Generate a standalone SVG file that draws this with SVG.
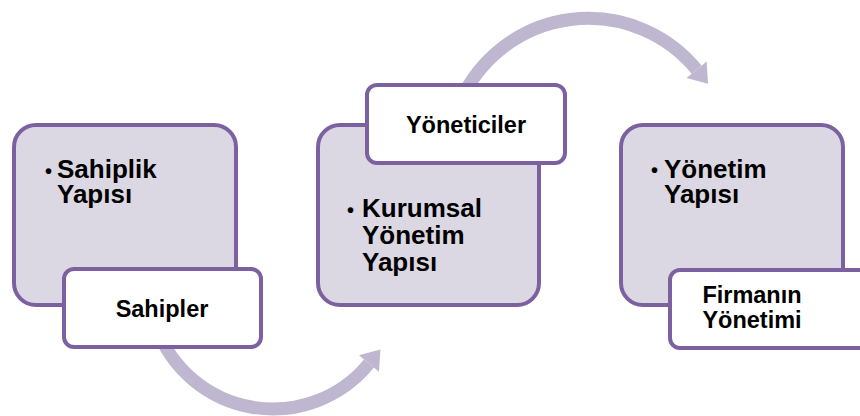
<svg xmlns="http://www.w3.org/2000/svg" width="860" height="416" viewBox="0 0 860 416">
  <defs>
    <style>
      .big { fill: #DCD8E3; stroke: #7B61A0; stroke-width: 4; }
      .tab { fill: #FFFFFF; stroke: #7B61A0; stroke-width: 4; }
      .flow { fill: none; stroke: #BFB6D0; stroke-width: 13; }
      .head { fill: #BFB6D0; }
      text { font-family: "Liberation Sans", Arial, sans-serif; font-weight: bold; fill: #000000; }
      .t1 { font-size: 26px; }
      .t2 { font-size: 23.5px; text-anchor: middle; }
      .dot { font-size: 20px; }
    </style>
  </defs>

  <rect width="860" height="416" fill="#FFFFFF"/>

  <!-- curved connectors between the stages -->
  <g id="connectors">
    <!-- bottom arc: Sahipler -> Kurumsal Yönetim -->
    <path class="flow" d="M 156.5 327.4 A 124 124 0 0 0 369 363.5"/>
    <polygon class="head" points="359,355.3 380.4,349.6 379,371.7"/>
    <!-- top arc: Yöneticiler -> Yönetim Yapısı -->
    <path class="flow" d="M 461 100 A 140 140 0 0 1 696.6 69.7"/>
    <polygon class="head" points="686.5,77.9 706.7,61.5 708,83.7"/>
  </g>

  <!-- stage 1 -->
  <g id="stage-sahiplik">
    <rect class="big" x="14" y="125" width="222" height="180" rx="22"/>
    <text class="dot" x="45" y="178">•</text>
    <text class="t1" x="57" y="178">Sahiplik</text>
    <text class="t1" x="57" y="203">Yapısı</text>
  </g>
  <g id="tab-sahipler">
    <rect class="tab" x="64" y="269" width="197" height="78" rx="10"/>
    <text class="t2" x="162" y="317">Sahipler</text>
  </g>

  <!-- stage 2 -->
  <g id="stage-kurumsal">
    <rect class="big" x="318" y="125" width="221" height="180" rx="22"/>
    <text class="dot" x="347" y="217">•</text>
    <text class="t1" x="362" y="217">Kurumsal</text>
    <text class="t1" x="362" y="244">Yönetim</text>
    <text class="t1" x="362" y="271">Yapısı</text>
  </g>
  <g id="tab-yoneticiler">
    <rect class="tab" x="367" y="85" width="198" height="78" rx="10"/>
    <text class="t2" x="466" y="133">Yöneticiler</text>
  </g>

  <!-- stage 3 -->
  <g id="stage-yonetim">
    <rect class="big" x="621" y="125" width="222" height="180" rx="22"/>
    <text class="dot" x="651" y="177">•</text>
    <text class="t1" x="664" y="178">Yönetim</text>
    <text class="t1" x="664" y="203">Yapısı</text>
  </g>
  <g id="tab-firma">
    <rect class="tab" x="670" y="270" width="200" height="78" rx="10"/>
    <text class="t2" x="752" y="303">Firmanın</text>
    <text class="t2" x="752" y="328">Yönetimi</text>
  </g>
</svg>
